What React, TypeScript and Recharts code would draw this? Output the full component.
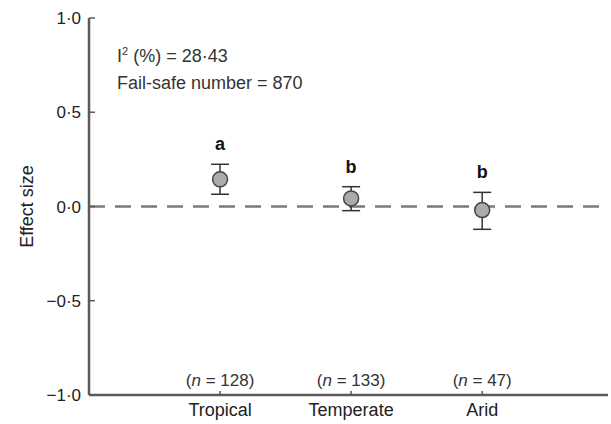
import {
  ComposedChart, Scatter, ErrorBar, XAxis, YAxis, ReferenceLine,
} from 'recharts'

// ─── Data ─────────────────────────────────────────────────────────────────────

const CATEGORIES = ['Tropical', 'Temperate', 'Arid']
const MEANS = [0.144, 0.043, -0.019]
const LOWER = [0.065, -0.022, -0.121]
const UPPER = [0.224, 0.105, 0.075]
const GROUP_LETTERS = ['a', 'b', 'b']
const SAMPLE_SIZES = [128, 133, 47]
const Y_TICKS = [-1, -0.5, 0, 0.5, 1]
const N_LABEL_Y = -0.92

const FONT = '"Liberation Sans", Arial, sans-serif'
const AXIS = '#5a5a5a'

// ─── Helpers ──────────────────────────────────────────────────────────────────

const fmtY = (v: number) => {
  const s = Math.abs(v).toFixed(1).replace('.', '·')
  return v < 0 ? `\u2212${s}` : s
}

const points = CATEGORIES.map((c, i) => ({
  x: i + 1,
  y: MEANS[i],
  err: [MEANS[i] - LOWER[i], UPPER[i] - MEANS[i]],
}))
const letterPts = CATEGORIES.map((c, i) => ({ x: i + 1, y: UPPER[i], label: GROUP_LETTERS[i] }))
const nPts = CATEGORIES.map((c, i) => ({ x: i + 1, y: N_LABEL_Y, n: SAMPLE_SIZES[i] }))

// ─── Custom ticks (inward tick marks) ─────────────────────────────────────────

function YTick({ x, y, payload }: any) {
  return (
    <g>
      <line x1={x + 8} x2={x + 14} y1={y} y2={y} stroke={AXIS} strokeWidth={1.5} />
      <text x={x} y={y} dy={6} textAnchor="end" fontSize={17} fill="#222" fontFamily={FONT}>
        {fmtY(payload.value)}
      </text>
    </g>
  )
}

function XTick({ x, y, payload }: any) {
  return (
    <g>
      <line x1={x} x2={x} y1={y} y2={y - 4} stroke={AXIS} strokeWidth={1.5} />
      <text x={x} y={y} dy={21} textAnchor="middle" fontSize={18} fill="#222" fontFamily={FONT}>
        {CATEGORIES[payload.value - 1]}
      </text>
    </g>
  )
}

function Marker({ cx, cy }: any) {
  return <circle cx={cx} cy={cy} r={7.5} fill="#ababab" stroke="#444" strokeWidth={1.5} />
}

function Letter({ cx, cy, payload }: any) {
  return (
    <text x={cx} y={cy - 14} textAnchor="middle" fontSize={18} fontWeight={700} fill="#111" fontFamily={FONT}>
      {payload.label}
    </text>
  )
}

function NLabel({ cx, cy, payload }: any) {
  return (
    <text x={cx} y={cy + 6} textAnchor="middle" fontSize={17} fill="#333" fontFamily={FONT}>
      (<tspan fontStyle="italic">n</tspan> = {payload.n})
    </text>
  )
}

// ─── Chart ────────────────────────────────────────────────────────────────────

export default function App() {
  return (
    <div style={{ position: 'absolute', left: 0, top: 0, width: 611, height: 424, background: '#fff' }}>
      <ComposedChart width={611} height={424} margin={{ top: 18, right: 3, left: 0, bottom: 0 }}>
        <XAxis
          xAxisId="top"
          orientation="top"
          type="number"
          dataKey="x"
          domain={[0, 3.96]}
          height={0}
          tick={false}
          tickLine={false}
          axisLine={{ stroke: AXIS, strokeWidth: 2.5 }}
        />
        <XAxis
          type="number"
          dataKey="x"
          domain={[0, 3.96]}
          ticks={[1, 2, 3]}
          allowDataOverflow
          height={29}
          tickSize={0}
          tickMargin={0}
          tick={<XTick />}
          tickLine={false}
          axisLine={{ stroke: AXIS, strokeWidth: 2.5 }}
        />
        <YAxis
          type="number"
          domain={[-1, 1]}
          ticks={Y_TICKS}
          width={89}
          tickSize={0}
          tickMargin={8}
          tick={<YTick />}
          tickLine={false}
          axisLine={{ stroke: AXIS, strokeWidth: 2.5 }}
          label={{
            value: 'Effect size', angle: -90, position: 'insideLeft', offset: 27,
            style: { fontSize: 18, fill: '#222', fontFamily: FONT, textAnchor: 'middle' },
          }}
        />
        <ReferenceLine y={0} stroke="#7a7a7a" strokeWidth={2.5} strokeDasharray="16 10" />
        <Scatter data={points} dataKey="y" shape={<Marker />} isAnimationActive={false}>
          <ErrorBar dataKey="err" direction="y" width={9} stroke="#333" strokeWidth={1.5} />
        </Scatter>
        <Scatter data={letterPts} dataKey="y" shape={<Letter />} isAnimationActive={false} />
        <Scatter data={nPts} dataKey="y" shape={<NLabel />} isAnimationActive={false} />
        <text x={117} y={62} fontSize={18} fill="#333" fontFamily={FONT}>
          I<tspan dy={-7} fontSize={11}>2</tspan><tspan dy={7}> (%) = 28·43</tspan>
        </text>
        <text x={117} y={89} fontSize={18} fill="#333" fontFamily={FONT}>
          Fail-safe number = 870
        </text>
      </ComposedChart>
    </div>
  )
}
